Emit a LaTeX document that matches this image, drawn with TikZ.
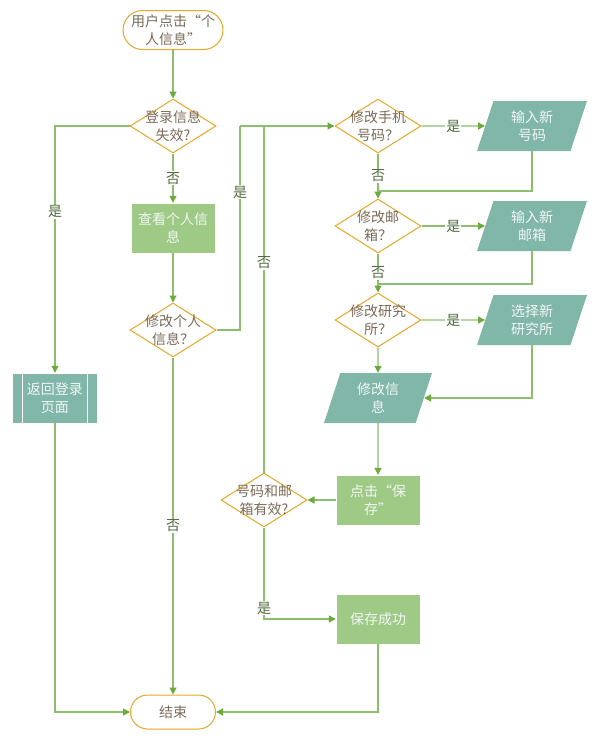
\documentclass[tikz,border=0pt]{standalone}
\usepackage{fontspec}
\setmainfont{Noto Sans CJK SC}
\usetikzlibrary{shapes.geometric,arrows.meta,calc}
\definecolor{orangeC}{HTML}{E9A727}
\definecolor{tealC}{HTML}{80B7A8}
\definecolor{greenF}{HTML}{9ECA86}
\definecolor{lineC}{HTML}{8CBE6E}
\definecolor{tipC}{HTML}{6AAB3B}
\definecolor{dtxt}{HTML}{7B6B58}
\definecolor{ltxt}{HTML}{4E6A3C}
\definecolor{wtxt}{HTML}{F2F6F4}
\begin{document}
\begin{tikzpicture}[x=1pt,y=-1pt,
  font=\fontsize{14}{18}\selectfont,
  term/.style={draw=orangeC,line width=1pt,fill=white,minimum width=100pt,minimum height=39pt,rounded corners=19.5pt,align=center,text=dtxt,inner sep=1pt},
  dia/.style={shape=diamond,draw=orangeC,line width=1pt,fill=white,minimum width=86pt,minimum height=54pt,inner sep=0pt},
  dtext/.style={align=center,text=dtxt,inner sep=0pt},
  proc/.style={fill=greenF,draw=white,minimum width=84pt,minimum height=50pt,align=center,text=wtxt,inner sep=1pt},
  para/.style={shape=trapezium,trapezium left angle=63.4,trapezium right angle=116.6,trapezium stretches body,fill=tealC,minimum width=110pt,minimum height=50pt,align=center,text=wtxt,inner sep=1pt},
  conn/.style={draw=lineC,line width=1.2pt},
  arr/.style={conn,-{Triangle[length=7pt,width=7pt,color=tipC]}},
  lbl/.style={fill=white,inner sep=1pt,text=ltxt}
]
\useasboundingbox (0,0) rectangle (597,737);

% nodes
\node[term] (start) at (173,30) {用户点击“个\\人信息”};
\node[dia,label={[dtext]center:登录信息\\失效?}] (d1) at (173,126) {};
\node[proc] (view) at (173,228) {查看个人信\\息};
\node[dia,label={[dtext]center:修改个人\\信息？}] (d2) at (173,330) {};
\node[fill=tealC,draw=white,minimum width=85pt,minimum height=50pt,align=center,text=wtxt,inner sep=1pt] (ret) at (55,398) {返回登录\\页面};
\draw[white,line width=1pt] ([xshift=10pt]ret.north west) -- ([xshift=10pt]ret.south west);
\draw[white,line width=1pt] ([xshift=-10pt]ret.north east) -- ([xshift=-10pt]ret.south east);
\node[term,minimum width=85pt,minimum height=34pt,rounded corners=17pt] (end) at (173,712) {结束};

\node[dia,label={[dtext]center:修改手机\\号码？}] (dp) at (378,126) {};
\node[para] (pin) at (532,126) {输入新\\号码};
\node[dia,label={[dtext]center:修改邮\\箱？}] (dm) at (378,226) {};
\node[para] (min) at (532,226) {输入新\\邮箱};
\node[dia,label={[dtext]center:修改研究\\所？}] (dr) at (378,320) {};
\node[para] (rin) at (532,320) {选择新\\研究所};
\node[para,minimum width=108pt] (mod) at (378,398) {修改信\\息};
\node[proc] (save) at (378,500) {点击“保\\存”};
\node[dia,label={[dtext]center:号码和邮\\箱有效?}] (dv) at (264,500) {};
\node[proc] (ok) at (378,619) {保存成功};

\coordinate (c1) at (378,191);
\coordinate (c2) at (378,284);
\coordinate (j1) at (240,126);
\coordinate (j2) at (264,126);

% connectors
\draw[arr] (start) -- (d1);
\draw[arr] (d1) -- node[lbl,pos=0.5]{否} (view);
\draw[arr] (d1.west) -| node[lbl,pos=0.674]{是} (ret.north);
\draw[arr] (view) -- (d2);
\draw[arr] (d2) -- node[lbl,pos=0.5]{否} (end);
\draw[conn] (d2.east) -| node[lbl,pos=0.838]{是} (j1);
\draw[arr] (j1) -- (dp.west);
\draw[conn] (dv.north) -- node[lbl,pos=0.605]{否} (j2);

\draw[arr] (dp.east) -- node[lbl,pos=0.5]{是} (pin.west);
\draw[arr] (dp.south) -- node[lbl,pos=0.5]{否} (dm.north);
\draw[conn] (pin.south) |- (c1);
\draw[arr] (dm.east) -- node[lbl,pos=0.5]{是} (min.west);
\draw[arr] (dm.south) -- node[lbl,pos=0.5]{否} (dr.north);
\draw[conn] (min.south) |- (c2);
\draw[arr] (dr.east) -- node[lbl,pos=0.5]{是} (rin.west);
\draw[arr] (dr.south) -- (mod.north);
\draw[arr] (rin.south) |- (mod.east);
\draw[arr] (mod.south) -- (save.north);
\draw[arr] (save.west) -- (dv.east);
\draw[arr] (dv.south) |- node[lbl,pos=0.44]{是} (ok.west);
\draw[arr] (ok.south) |- (end.east);
\draw[arr] (ret.south) |- (end.west);
\end{tikzpicture}
\end{document}
